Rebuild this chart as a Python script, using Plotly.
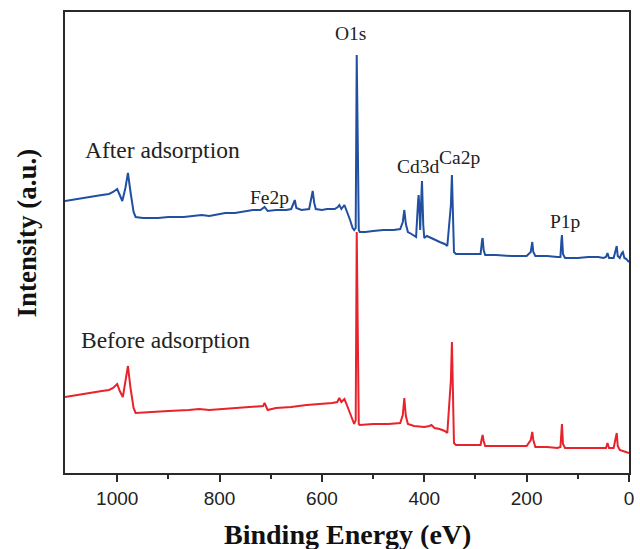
import plotly.graph_objects as go

# XPS survey spectra: binding energy (eV) and intensity (arbitrary units)
energy_after = [1102, 1080, 1050, 1030, 1016, 1008, 1000, 995, 990, 984, 979, 974, 968, 964,
                950, 920, 900, 870, 850, 835, 820, 800, 789, 770, 750, 735, 720, 712, 706,
                690, 670, 660, 656, 653, 650, 640, 625, 620, 618, 615, 612, 600, 590, 575,
                569, 566, 562, 556, 552, 545, 540, 537, 534, 532, 530, 528, 526, 515, 500,
                480, 460, 447, 442, 439, 436, 432, 425, 416, 412, 411, 409, 408, 406, 404.5,
                402, 400, 395, 385, 378, 370, 360, 355, 352, 350.5, 348, 346, 344, 342, 338,
                320, 300, 290, 287, 286, 284, 281, 260, 230, 200, 192, 189, 187, 183, 160,
                140, 134, 132, 131, 129, 125, 100, 80, 60, 50, 45, 42, 39, 30, 26, 24, 22,
                18, 14, 12, 9, 5, 2, 0]
intensity_after = [272, 274, 276, 278, 279, 281, 284, 277, 272, 285, 300, 281, 261, 256,
                   255, 255, 256, 256, 257, 258, 257, 259, 260, 260, 262, 263, 263, 266, 262,
                   263, 263, 264, 269, 273, 265, 263, 264, 275, 282, 270, 264, 263, 264, 264,
                   266, 268, 264, 268, 263, 253, 245, 243, 245, 418, 333, 243, 241, 241, 242,
                   243, 243, 244, 251, 263, 249, 241, 239, 236, 273, 278, 258, 243, 273, 292,
                   248, 235, 237, 235, 233, 231, 229, 227, 248, 258, 268, 298, 253, 221, 219,
                   219, 219, 219, 233, 235, 223, 218, 218, 217, 217, 221, 231, 221, 217, 217,
                   216, 216, 233, 238, 219, 215, 215, 216, 216, 215, 216, 220, 215, 215, 223,
                   227, 217, 215, 220, 221, 215, 214, 212, 211]

energy_before = [1102, 1080, 1050, 1030, 1016, 1008, 1000, 995, 989, 984, 979, 974, 968, 964,
                 940, 900, 860, 840, 820, 790, 760, 730, 715, 712, 706, 690, 660, 630, 600,
                 580, 570, 566, 562, 556, 552, 545, 540, 537, 534, 532, 530, 528, 526, 500,
                 470, 447, 442, 439, 436, 432, 420, 400, 390, 386, 380, 370, 360, 355, 352,
                 350.5, 348, 346, 344, 342, 338, 300, 290, 287, 286, 284, 281, 250, 200, 192,
                 189, 187, 183, 160, 140, 134, 132, 131, 129, 125, 80, 55, 45, 42, 39, 30, 26,
                 24, 22, 18, 12, 5, 2, 0]
intensity_before = [76, 78, 80, 82, 83, 85, 89, 82, 76, 90, 107, 85, 65, 60,
                    61, 62, 63, 64, 63, 64, 65, 66, 67, 70, 63, 65, 66, 68, 69,
                    70, 71, 75, 71, 74, 69, 59, 52, 49, 53, 241, 143, 49, 48, 49,
                    49, 50, 58, 75, 57, 49, 47, 46, 47, 48, 45, 44, 42, 40, 63,
                    78, 93, 131, 73, 30, 28, 28, 28, 36, 38, 32, 27, 27, 27, 33,
                    41, 33, 26, 26, 25, 26, 41, 49, 29, 25, 25, 25, 25, 30, 25, 25, 33,
                    40, 27, 23, 22, 21, 20, 20]

x_ticks = [1000, 800, 600, 400, 200, 0]

# Peak assignments: (label, energy, intensity)
peak_labels = [("O1s", 545, 440), ("Fe2p", 703, 276), ("Cd3d", 411, 307),
               ("Ca2p", 331, 316), ("P1p", 126, 252)]
series_labels = [("After adsorption", 911, 323), ("Before adsorption", 905, 133)]

SERIF = "Liberation Serif, Times New Roman, serif"
SANS = "Liberation Sans, Arial, sans-serif"
AXIS_COLOR = "#2a2a2a"

fig = go.Figure()
fig.add_trace(go.Scatter(x=energy_before, y=intensity_before, mode="lines",
                         line=dict(color="#e8232b", width=2), name="Before adsorption"))
fig.add_trace(go.Scatter(x=energy_after, y=intensity_after, mode="lines",
                         line=dict(color="#2150a0", width=2), name="After adsorption"))

annotations = []
for text, xv, yv in peak_labels:
    annotations.append(dict(x=xv, y=yv, xref="x", yref="y", text=text, showarrow=False,
                            font=dict(family=SERIF, size=19.5, color="#222")))
for text, xv, yv in series_labels:
    annotations.append(dict(x=xv, y=yv, xref="x", yref="y", text=text, showarrow=False,
                            font=dict(family=SERIF, size=23.5, color="#222")))

annotations.append(dict(x=0.5, y=0, xref="paper", yref="paper", text="<b>Binding Energy (eV)</b>",
                        showarrow=False, yanchor="middle", yshift=-61,
                        font=dict(family=SERIF, size=28, color="#111")))
annotations.append(dict(x=0, y=0.5, xref="paper", yref="paper", text="<b>Intensity (a.u.)</b>",
                        showarrow=False, textangle=-90, xanchor="center", xshift=-39, yshift=9,
                        font=dict(family=SERIF, size=27, color="#111")))

fig.update_layout(
    width=640, height=549,
    margin=dict(l=65, r=6, t=12, b=76),
    paper_bgcolor="white", plot_bgcolor="white",
    showlegend=False,
    annotations=annotations,
    xaxis=dict(range=[1102, 0], tickvals=x_ticks, ticks="outside", ticklen=7, tickwidth=1.5,
               tickcolor=AXIS_COLOR, showline=True, linecolor=AXIS_COLOR, linewidth=2,
               mirror=True, showgrid=False, zeroline=False,
               tickfont=dict(family=SANS, size=19, color="#222"),
               minor=dict(tickvals=[900, 700, 500, 300, 100], ticks="outside", ticklen=4,
                          tickwidth=1.5, tickcolor=AXIS_COLOR)),
    yaxis=dict(range=[0, 461], showticklabels=False, ticks="", showline=True,
               linecolor=AXIS_COLOR, linewidth=2, mirror=True, showgrid=False, zeroline=False),
)

fig.write_html("out.html")
